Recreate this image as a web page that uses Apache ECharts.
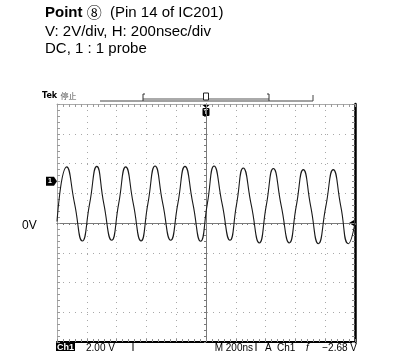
<!DOCTYPE html>
<html>
<head>
<meta charset="utf-8">
<script src="https://cdn.jsdelivr.net/npm/echarts@6/dist/echarts.min.js"></script>
<style>
  html, body { margin: 0; padding: 0; background: #fff; }
  #chart { width: 405px; height: 351px; }
</style>
</head>
<body>
<div id="chart"></div>
<script>
// Scope trace of pin 14 (IC201): time in ns relative to the trigger, level in volts
const traceTimes = [-1000, -935, -882, -830, -781, -733, -686, -633, -586, -539, -488, -436, -390, -342,
  -290, -237, -189, -141, -88, -36, 9, 54, 108, 161, 205, 250, 304, 358, 405, 452, 505, 559, 606, 653,
  703, 754, 804, 854, 905, 955, 1000];
const traceVolts = [0.1, 3.77, 1.3, -1.21, 1.3, 3.81, 1.3, -1.16, 1.3, 3.77, 1.3, -1.21, 1.3, 3.83,
  1.3, -1.16, 1.3, 3.81, 1.3, -1.23, 1.3, 3.83, 1.3, -1.16, 1.25, 3.70, 1.2, -1.34, 1.2, 3.66, 1.15, -1.34,
  1.15, 3.59, 1.1, -1.39, 1.1, 3.59, 1.1, -1.39, 0.0];

// Screen scale: 10 horizontal divisions of 200 ns, 8 vertical divisions of 2 V
const timeRange = [-1000, 1000];
const timeDiv = 200;
const voltRange = [-8, 8];
const voltDiv = 2;

const titleLines = ['V: 2V/div, H: 200nsec/div', 'DC, 1 : 1 probe'];
const statusLeft = ['Ch1', '2.00 V'];
const statusRight = ['M 200ns', 'A', 'Ch1', '\u0192', '\u22122.68 V'];

const GRID = { left: 57, right: 50, top: 104, height: 238 };
const DOT = '#a8a8a8';
const CROSS = '#7a7a7a';

function axisBase(min, max, interval) {
  return { type: 'value', min: min, max: max, interval: interval, axisLabel: { show: false } };
}

// Centre cross-hair axes (ticks on both sides) and the four edges of the graticule
const xAxes = [
  Object.assign(axisBase(timeRange[0], timeRange[1], timeDiv), {
    axisLine: { onZero: true, onZeroAxisIndex: 0, lineStyle: { color: CROSS, width: 1 } },
    axisTick: { show: true, inside: false, length: 2, lineStyle: { color: CROSS } },
    minorTick: { show: true, splitNumber: 5, length: 2, lineStyle: { color: CROSS } },
    splitLine: { show: true, lineStyle: { color: DOT, width: 1, type: [1, 5] } }
  }),
  Object.assign(axisBase(timeRange[0], timeRange[1], timeDiv), {
    axisLine: { onZero: true, onZeroAxisIndex: 0, lineStyle: { color: CROSS, width: 1 } },
    axisTick: { show: true, inside: true, length: 2, lineStyle: { color: CROSS } },
    minorTick: { show: true, splitNumber: 5, length: 2, lineStyle: { color: CROSS } },
    splitLine: { show: false }
  }),
  Object.assign(axisBase(timeRange[0], timeRange[1], timeDiv), {
    position: 'bottom',
    axisLine: { onZero: false, lineStyle: { color: '#000', width: 2 } },
    axisTick: { show: true, inside: true, length: 3, lineStyle: { color: '#888' } },
    minorTick: { show: true, splitNumber: 5, length: 3, lineStyle: { color: '#888' } },
    splitLine: { show: false }
  }),
  Object.assign(axisBase(timeRange[0], timeRange[1], timeDiv), {
    position: 'top',
    axisLine: { onZero: false, lineStyle: { color: '#aaa', width: 1 } },
    axisTick: { show: true, inside: true, length: 3, lineStyle: { color: '#999' } },
    minorTick: { show: true, splitNumber: 5, length: 3, lineStyle: { color: '#999' } },
    splitLine: { show: false }
  })
];

const yAxes = [
  Object.assign(axisBase(voltRange[0], voltRange[1], voltDiv), {
    axisLine: { onZero: true, onZeroAxisIndex: 0, lineStyle: { color: CROSS, width: 1 } },
    axisTick: { show: true, inside: false, length: 2, lineStyle: { color: CROSS } },
    minorTick: { show: true, splitNumber: 5, length: 2, lineStyle: { color: CROSS } },
    splitLine: { show: true, lineStyle: { color: DOT, width: 1, type: [1, 5] } }
  }),
  Object.assign(axisBase(voltRange[0], voltRange[1], voltDiv), {
    axisLine: { onZero: true, onZeroAxisIndex: 0, lineStyle: { color: CROSS, width: 1 } },
    axisTick: { show: true, inside: true, length: 2, lineStyle: { color: CROSS } },
    minorTick: { show: true, splitNumber: 5, length: 2, lineStyle: { color: CROSS } },
    splitLine: { show: false }
  }),
  Object.assign(axisBase(voltRange[0], voltRange[1], voltDiv), {
    position: 'left',
    axisLine: { onZero: false, lineStyle: { color: '#aaa', width: 1 } },
    axisTick: { show: true, inside: true, length: 3, lineStyle: { color: '#999' } },
    minorTick: { show: true, splitNumber: 5, length: 3, lineStyle: { color: '#999' } },
    splitLine: { show: false }
  }),
  Object.assign(axisBase(voltRange[0], voltRange[1], voltDiv), {
    position: 'right',
    axisLine: { onZero: false, lineStyle: { color: '#000', width: 2.5 } },
    axisTick: { show: true, inside: true, length: 3, lineStyle: { color: '#888' } },
    minorTick: { show: true, splitNumber: 5, length: 3, lineStyle: { color: '#888' } },
    splitLine: { show: false }
  })
];

const chart = echarts.init(document.getElementById('chart'), null, { renderer: 'canvas' });

chart.setOption({
  animation: false,
  backgroundColor: '#fff',
  grid: GRID,
  xAxis: xAxes,
  yAxis: yAxes,
  series: [{
    type: 'line',
    xAxisIndex: 0,
    yAxisIndex: 0,
    data: traceTimes.map((t, i) => [t, traceVolts[i]]),
    smooth: 0.55,
    showSymbol: false,
    lineStyle: { color: '#1a1a1a', width: 1.1 },
    z: 5
  }]
});

// Screen annotations placed from the axis scales
const px = (t) => chart.convertToPixel({ xAxisIndex: 0 }, t);
const py = (v) => chart.convertToPixel({ yAxisIndex: 0 }, v);
const xL = px(timeRange[0]), xR = px(timeRange[1]), xC = px(0);
const yT = py(voltRange[1]), yB = py(voltRange[0]), y0 = py(0);
const FONT = '"Liberation Sans", Arial, sans-serif';
const statusFont = '10px ' + FONT;

function statusText(x, text, align) {
  return { type: 'text', x: x, y: yB + 6, style: { text: text, font: statusFont, fill: '#000', align: align || 'left', verticalAlign: 'middle' } };
}

const graphics = [
  // Heading
  { type: 'text', left: 45, top: 5, style: {
      text: '{b|Point} {c|\u2467}  (Pin 14 of IC201)',
      font: '15px ' + FONT, fill: '#000',
      rich: {
        b: { font: 'bold 15px ' + FONT, fill: '#000' },
        c: { font: '15px "Noto Sans CJK JP", sans-serif', fill: '#000' }
      } } },
  { type: 'text', left: 45, top: 24, style: { text: titleLines[0], font: '15px ' + FONT, fill: '#000' } },
  { type: 'text', left: 45, top: 41, style: { text: titleLines[1], font: '15px ' + FONT, fill: '#000' } },
  // Ground reference label
  { type: 'text', x: 22, y: y0 + 3, style: { text: '0V', font: '12px ' + FONT, fill: '#000', verticalAlign: 'middle' } },

  // Scope header: brand, run state and record-view bar
  { type: 'text', x: 42, y: yT - 2, style: { text: '{t|Tek} {s|\u505c\u6b62}', verticalAlign: 'bottom',
      rich: {
        t: { font: 'bold 8px "DejaVu Sans", sans-serif', fill: '#000' },
        s: { font: '8px "Noto Sans CJK JP", sans-serif', fill: '#555' }
      } } },
  { type: 'line', shape: { x1: 100, y1: yT - 3, x2: 313, y2: yT - 3 }, style: { stroke: '#444', lineWidth: 1 } },
  { type: 'line', shape: { x1: 313, y1: yT - 9, x2: 313, y2: yT - 3 }, style: { stroke: '#444', lineWidth: 1 } },
  { type: 'rect', shape: { x: 143, y: yT - 6, width: 126, height: 2 }, style: { fill: '#aaa' } },
  { type: 'polyline', shape: { points: [[145, yT - 10], [143, yT - 10], [143, yT - 3]] }, style: { stroke: '#333', fill: null, lineWidth: 1 } },
  { type: 'polyline', shape: { points: [[267, yT - 10], [269, yT - 10], [269, yT - 3]] }, style: { stroke: '#333', fill: null, lineWidth: 1 } },
  // Trigger position marker (record bar and graticule)
  { type: 'rect', shape: { x: xC - 2.5, y: yT - 11, width: 5, height: 7 }, style: { fill: '#fff', stroke: '#222', lineWidth: 1 } },
  { type: 'polygon', shape: { points: [[xC - 3.5, yT + 1], [xC + 3.5, yT + 1], [xC, yT + 4]] }, style: { fill: '#000' } },
  { type: 'rect', shape: { x: xC - 3.5, y: yT + 4, width: 7, height: 8, r: 1 }, style: { fill: '#000' } },
  { type: 'text', x: xC, y: yT + 8, style: { text: 'T', font: 'bold 7px ' + FONT, fill: '#fff', align: 'center', verticalAlign: 'middle' } },

  // Channel 1 marker on the left edge
  { type: 'polygon', shape: { points: [[xL - 11, py(2.8) - 4.5], [xL - 3, py(2.8) - 4.5], [xL, py(2.8)], [xL - 3, py(2.8) + 4.5], [xL - 11, py(2.8) + 4.5]] }, style: { fill: '#000' } },
  { type: 'text', x: xL - 7, y: py(2.8), style: { text: '1', font: 'bold 7px ' + FONT, fill: '#fff', align: 'center', verticalAlign: 'middle' } },
  // Trigger level arrow on the right edge
  { type: 'polygon', shape: { points: [[xR - 6, y0], [xR - 1, y0 - 3], [xR - 1, y0 + 3]] }, style: { fill: '#000' } },

  // Status line under the graticule
  { type: 'rect', shape: { x: xL - 1, y: yB + 1, width: 19, height: 10 }, style: { fill: '#000' } },
  { type: 'text', x: xL + 8.5, y: yB + 6, style: { text: statusLeft[0], font: 'bold 9px ' + FONT, fill: '#fff', align: 'center', verticalAlign: 'middle' } },
  statusText(86, statusLeft[1]),
  { type: 'line', shape: { x1: 133, y1: yB + 1, x2: 133, y2: yB + 10 }, style: { stroke: '#000', lineWidth: 1 } },
  statusText(253, statusRight[0], 'right'),
  { type: 'line', shape: { x1: 256, y1: yB + 1, x2: 256, y2: yB + 10 }, style: { stroke: '#000', lineWidth: 1 } },
  statusText(265, statusRight[1]),
  statusText(277, statusRight[2]),
  statusText(305, statusRight[3]),
  statusText(357, statusRight[4], 'right')
];

chart.setOption({ graphic: graphics });
</script>
</body>
</html>
